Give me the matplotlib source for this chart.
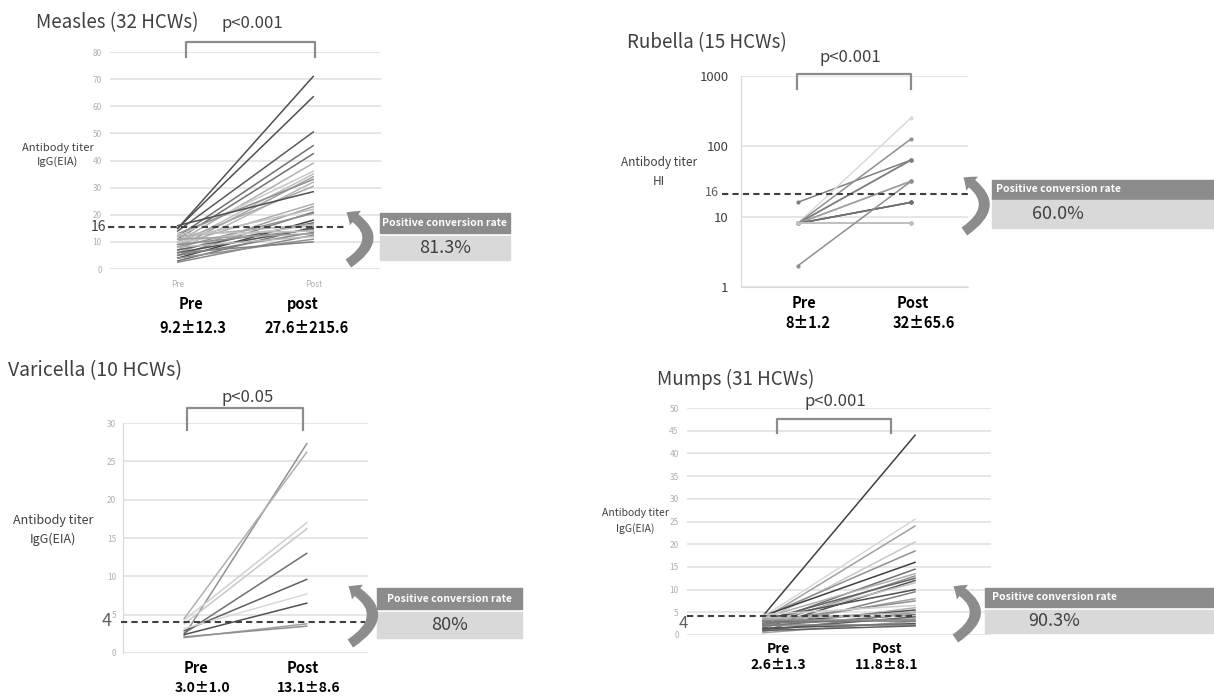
import matplotlib
matplotlib.use("Agg")
import matplotlib.pyplot as plt
from matplotlib.patches import FancyArrowPatch, Rectangle
from matplotlib.lines import Line2D
from matplotlib.ticker import NullLocator

plt.rcParams['font.family'] = ['Noto Sans CJK JP', 'DejaVu Sans']

# ---- data ----
measles_pre = [15, 15, 14, 12, 11, 10, 12, 9, 8, 13, 7, 10, 16, 9, 6, 11,
               5, 8, 4, 7, 12, 10, 3, 6, 9, 13, 5, 11, 2.5, 8, 4, 6]
measles_post = [71, 63.5, 50.5, 45.5, 42.5, 39, 36, 35, 34, 33, 32, 30.5, 28.5, 24, 23, 22,
                21, 20.5, 18, 17, 16.5, 16, 15.5, 15, 14.5, 14, 13.5, 13, 12.5, 12, 11, 10]
measles_shade = ['#505050', '#505050', '#5a5a5a', '#707070', '#707070', '#b0b0b0', '#c8c8c8', '#c0c0c0',
                 '#a0a0a0', '#909090', '#b8b8b8', '#a8a8a8', '#505050', '#b0b0b0', '#a0a0a0', '#c0c0c0',
                 '#808080', '#909090', '#404040', '#606060', '#b0b0b0', '#c8c8c8', '#707070', '#505050',
                 '#909090', '#c0c0c0', '#808080', '#a0a0a0', '#888888', '#b8b8b8', '#909090', '#808080']

rubella_pre = [16, 8, 8, 8, 8, 8, 8, 8, 8, 8, 8, 8, 8, 8, 2]
rubella_post = [64, 256, 128, 64, 64, 32, 32, 16, 16, 16, 8, 8, 8, 8, 32]
rubella_shade = ['#808080', '#dadada', '#909090', '#808080', '#808080', '#a0a0a0', '#a0a0a0', '#707070',
                 '#707070', '#707070', '#c0c0c0', '#c0c0c0', '#c0c0c0', '#c0c0c0', '#909090']

varicella_pre = [2.3, 4.5, 4.3, 3.8, 2.6, 2.9, 3.2, 2.4, 2.0, 2.1]
varicella_post = [27.3, 26.2, 17, 16.2, 13, 9.6, 7.7, 6.5, 3.8, 3.5]
varicella_shade = ['#909090', '#b0b0b0', '#d0d0d0', '#c8c8c8', '#707070', '#606060', '#d8d8d8',
                   '#505050', '#a0a0a0', '#909090']

mumps_pre = [4.2, 4.0, 3.5, 3.0, 4.0, 4.2, 2.5, 3.8, 2.0, 3.2, 1.5, 2.8, 3.5, 1.0, 2.2, 3.0,
             1.8, 2.5, 0.8, 2.0, 3.8, 1.2, 2.6, 0.5, 3.0, 1.5, 3.2, 2.2, 1.0, 3.5, 4.5]
mumps_post = [44, 25.5, 24, 20.5, 18.5, 16, 14.5, 13.5, 13, 12.5, 12, 11.5, 10, 9.5, 8, 7.5,
              6, 5.5, 5, 4.5, 4.2, 4, 3.5, 3, 3, 2.5, 3.2, 2.2, 2, 5, 6.5]
mumps_shade = ['#404040', '#d8d8d8', '#a0a0a0', '#c8c8c8', '#909090', '#404040', '#707070', '#b0b0b0',
               '#909090', '#606060', '#505050', '#c0c0c0', '#505050', '#808080', '#a0a0a0', '#909090',
               '#b0b0b0', '#505050', '#909090', '#707070', '#c0c0c0', '#606060', '#808080', '#a0a0a0',
               '#707070', '#505050', '#909090', '#808080', '#606060', '#b0b0b0', '#d0d0d0']

W, H = 1214, 700
fig = plt.figure(figsize=(W / 100, H / 100), dpi=100)


def rect(x0, y0, x1, y1):
    # pixel box -> figure fraction
    return [x0 / W, 1 - y1 / H, (x1 - x0) / W, (y1 - y0) / H]


def fp(x, y):
    return (x / W, 1 - y / H)


def txt(x, y, s, **kw):
    kw.setdefault('ha', 'center')
    kw.setdefault('va', 'center')
    kw.setdefault('color', '#404040')
    fig.text(*fp(x, y), s, **kw)


def panel(box, pre, post, shade, yticks, ylim, tick_size=6, tick_color='#b0b0b0',
          tick_pad=4, spine=False, log=False, marker=None):
    ax = fig.add_axes(rect(*box))
    for a, b, c in zip(pre, post, shade):
        ax.plot([0, 1], [a, b], color=c, lw=1.1, marker=marker, ms=2, zorder=2)
    if log:
        ax.set_yscale('log')
        ax.yaxis.set_minor_locator(NullLocator())
    ax.set_xlim(-0.5, 1.5)
    ax.set_ylim(ylim)
    ax.set_yticks(yticks)
    ax.set_yticklabels([str(t) for t in yticks])
    ax.set_xticks([])
    ax.grid(axis='y', color='#e4e4e4', lw=1.3)
    ax.set_axisbelow(True)
    for s in ax.spines.values():
        s.set_visible(False)
    if spine:
        ax.spines['left'].set_visible(True)
        ax.spines['left'].set_color('#d9d9d9')
    ax.tick_params(length=0, labelsize=tick_size, labelcolor=tick_color, pad=tick_pad)
    ax.patch.set_alpha(0)
    return ax


def bracket(x0, x1, ytop, ybot):
    xs = [x0 / W, x0 / W, x1 / W, x1 / W]
    ys = [1 - ybot / H, 1 - ytop / H, 1 - ytop / H, 1 - ybot / H]
    fig.add_artist(Line2D(xs, ys, color='#8c8c8c', lw=1.6, transform=fig.transFigure))


def rate_box(x0, x1, yh0, yh1, yb0, yb1, value):
    fig.add_artist(Rectangle(fp(x0, yh1), (x1 - x0) / W, (yh1 - yh0) / H,
                             color='#8c8c8c', transform=fig.transFigure))
    fig.add_artist(Rectangle(fp(x0, yb1), (x1 - x0) / W, (yb1 - yb0) / H,
                             color='#d9d9d9', transform=fig.transFigure))
    xc = (x0 + min(x1, 1124)) / 2
    txt(xc, (yh0 + yh1) / 2, 'Positive conversion rate', color='white', fontsize=7.5, fontweight='bold')
    txt(xc, (yb0 + yb1) / 2, value, fontsize=13)


def curl(xb, yb, xt, yt, rad=0.8):
    # crescent arrow bulging to the right, head at the top
    arr = FancyArrowPatch(fp(xb, yb), fp(xt, yt), transform=fig.transFigure,
                          connectionstyle='arc3,rad=%s' % rad,
                          arrowstyle='simple,head_length=0.55,head_width=0.95,tail_width=0.5',
                          mutation_scale=14, color='#8c8c8c', lw=0)
    fig.add_artist(arr)


dash = dict(ls='--', dashes=(3, 2), color='#404040', lw=1.5, clip_on=False, zorder=3)
bold = dict(fontweight='bold', color='black')

# ---------------- Measles ----------------
ax1 = panel((110, 52, 381, 269), measles_pre, measles_post, measles_shade,
            list(range(0, 90, 10)), (0, 80), tick_size=6, tick_pad=6)
ax1.set_xticks([0, 1])
ax1.set_xticklabels(['Pre', 'Post'], fontsize=6, color='#b0b0b0')
ax1.tick_params(axis='x', pad=8)
ax1.plot([-0.515, 1.25], [15.5, 15.5], **dash)
txt(36, 23, 'Measles (32 HCWs)', ha='left', fontsize=13.5)
txt(252, 23, 'p<0.001', fontsize=12)
bracket(186, 315, 42, 57)
txt(58, 155, 'Antibody titer\nIgG(EIA)', fontsize=8, linespacing=1.4)
txt(106, 227, '16', ha='right', fontsize=10)
txt(191, 304, 'Pre', fontsize=10.5, **bold)
txt(303, 304, 'post', fontsize=10.5, **bold)
txt(193, 328, '9.2±12.3', fontsize=10.5, **bold)
txt(307, 328, '27.6±215.6', fontsize=10.5, **bold)
rate_box(380, 510, 213, 233, 236, 260, '81.3%')
curl(346, 265, 344, 211, rad=0.85)

# ---------------- Rubella ----------------
ax2 = panel((741, 76, 968, 287), rubella_pre, rubella_post, rubella_shade,
            [1, 10, 100, 1000], (1, 1000), tick_size=9.5, tick_color='#404040',
            tick_pad=9, spine=True, log=True, marker='o')
ax2.spines['bottom'].set_visible(True)
ax2.spines['bottom'].set_color('#d9d9d9')
ax2.plot([-0.67, 1.5], [21, 21], **dash)
txt(627, 43, 'Rubella (15 HCWs)', ha='left', fontsize=13.5)
txt(850, 58, 'p<0.001', fontsize=12)
bracket(797, 911, 74, 89)
txt(659, 172, 'Antibody titer\nHI', fontsize=8.5, linespacing=1.6)
txt(719, 193, '16', ha='right', fontsize=9, color='#606060')
txt(804, 303, 'Pre', fontsize=10.5, **bold)
txt(913, 303, 'Post', fontsize=10.5, **bold)
txt(808, 323, '8±1.2', fontsize=10.5, **bold)
txt(924, 323, '32±65.6', fontsize=10.5, **bold)
rate_box(992, 1214, 180, 199, 200, 228, '60.0%')
curl(962, 233, 961, 176, rad=0.8)

# ---------------- Varicella ----------------
ax3 = panel((123, 423, 368, 653), varicella_pre, varicella_post, varicella_shade,
            list(range(0, 35, 5)), (0, 30), tick_size=6, tick_pad=5, spine=True)
ax3.plot([-0.52, 1.475], [4.1, 4.1], **dash)
txt(8, 371, 'Varicella (10 HCWs)', ha='left', fontsize=14)
txt(248, 397, 'p<0.05', fontsize=12)
bracket(187, 303, 408, 430)
txt(53, 530, 'Antibody titer\nIgG(EIA)', fontsize=9, linespacing=1.6)
txt(107, 621, '4', fontsize=13, color='#606060')
txt(196, 668, 'Pre', fontsize=10.5, **bold)
txt(303, 668, 'Post', fontsize=10.5, **bold)
txt(202, 688, '3.0±1.0', fontsize=10, **bold)
txt(309, 688, '13.1±8.6', fontsize=10, **bold)
rate_box(377, 522, 588, 609, 612, 638, '80%')
curl(348, 645, 346, 585, rad=0.85)

# ---------------- Mumps ----------------
ax4 = panel((687, 408, 991, 635), mumps_pre, mumps_post, mumps_shade,
            list(range(0, 55, 5)), (0, 50), tick_size=6, tick_pad=6)
ax4.plot([-0.5, 1.0], [4.2, 4.2], **dash)
txt(657, 379, 'Mumps (31 HCWs)', ha='left', fontsize=13.5)
txt(835, 402, 'p<0.001', fontsize=12)
bracket(777, 891, 419, 433)
txt(635, 521, 'Antibody titer\nIgG(EIA)', fontsize=7.5, linespacing=1.5)
txt(683, 623, '4', fontsize=12, color='#606060')
txt(778, 649, 'Pre', fontsize=10, **bold)
txt(887, 649, 'Post', fontsize=10, **bold)
txt(778, 665, '2.6±1.3', fontsize=10, **bold)
txt(887, 665, '11.8±8.1', fontsize=10, **bold)
rate_box(985, 1214, 588, 607, 610, 633, '90.3%')
curl(953, 640, 951, 585, rad=0.85)

fig.savefig('out.png', dpi=100)
